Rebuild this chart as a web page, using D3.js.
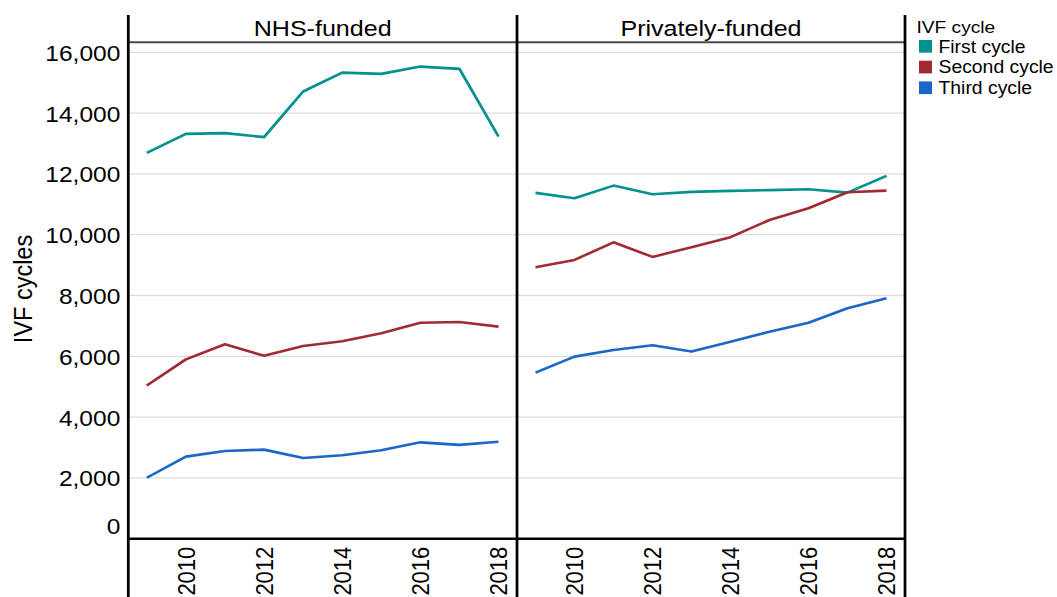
<!DOCTYPE html>
<html>
<head>
<meta charset="utf-8">
<script src="https://cdn.jsdelivr.net/npm/d3@7"></script>
<style>
  body { margin: 0; background: #fff; }
  svg { display: block; }
  text { font-family: "Liberation Sans", Arial, sans-serif; fill: #000; }
</style>
</head>
<body>
<svg id="chart"></svg>
<script>

  //============================================================
  // Data
  //------------------------------------------------------------

  var years = [2009, 2010, 2011, 2012, 2013, 2014, 2015, 2016, 2017, 2018];
  var panels = ['NHS-funded', 'Privately-funded'];
  var seriesNames = ['First cycle', 'Second cycle', 'Third cycle'];
  var seriesColors = ['#00928c', '#a12a34', '#1b67c7'];

  var nhsFirst   = [12690, 13315, 13340, 13210, 14710, 15330, 15290, 15530, 15455, 13230];
  var nhsSecond  = [5040, 5900, 6395, 6020, 6340, 6495, 6755, 7105, 7130, 6975];
  var nhsThird   = [2005, 2700, 2885, 2930, 2655, 2745, 2910, 3170, 3085, 3190];

  var privFirst  = [11375, 11200, 11615, 11330, 11410, 11440, 11465, 11495, 11385, 11935];
  var privSecond = [8930, 9170, 9750, 9270, 9590, 9920, 10485, 10870, 11395, 11450];
  var privThird  = [5465, 5990, 6210, 6365, 6155, 6475, 6810, 7105, 7580, 7910];

  var panelData = [
    [nhsFirst, nhsSecond, nhsThird],
    [privFirst, privSecond, privThird]
  ];

  var yTicks = [0, 2000, 4000, 6000, 8000, 10000, 12000, 14000, 16000];
  var xTicks = [2010, 2012, 2014, 2016, 2018];

  //============================================================
  // Layout (screen px, the picture is drawn slightly stretched sideways)
  //------------------------------------------------------------

  var width = 1057
    , height = 597
    , sx = 1.1
    , innerW = width / sx
    , stripTop = 15
    , plotTop = 42.3
    , axisY = 538.7
    , edges = [128.3, 517, 905]
    , pad = 18.5
    ;

  function px(v) { return v / sx; }

  var svg = d3.select('#chart')
      .attr('width', width)
      .attr('height', height)
      .attr('viewBox', '0 0 ' + innerW + ' ' + height)
      .attr('preserveAspectRatio', 'none');

  var y = d3.scaleLinear()
      .domain([0, 16000])
      .range([axisY, 52.3]);

  var line = d3.line()
      .x(function(d) { return d.x; })
      .y(function(d) { return y(d.v); });

  //------------------------------------------------------------
  // Panels

  panels.forEach(function(name, p) {
    var x0 = edges[p], x1 = edges[p + 1];
    var x = d3.scaleLinear()
        .domain([2009, 2018])
        .range([px(x0 + pad), px(x1 - pad)]);

    var g = svg.append('g').attr('class', 'panel');

    g.selectAll('line.grid')
        .data(yTicks.filter(function(t) { return t > 0; }))
      .enter().append('line')
        .attr('class', 'grid')
        .attr('x1', px(x0)).attr('x2', px(x1))
        .attr('y1', function(d) { return y(d); })
        .attr('y2', function(d) { return y(d); })
        .style('stroke', '#dcdcdc')
        .style('stroke-width', 1.3);

    g.selectAll('path.series')
        .data(panelData[p])
      .enter().append('path')
        .attr('class', 'series')
        .attr('d', function(vals) {
          return line(vals.map(function(v, i) { return {x: x(years[i]), v: v}; }));
        })
        .style('fill', 'none')
        .style('stroke', function(d, i) { return seriesColors[i]; })
        .style('stroke-width', 2.6)
        .style('stroke-linejoin', 'round');

    g.append('text')
        .attr('x', px((x0 + x1) / 2))
        .attr('y', 36)
        .attr('text-anchor', 'middle')
        .style('font-size', '22.8px')
        .text(name);

    g.selectAll('text.xtick')
        .data(xTicks)
      .enter().append('text')
        .attr('class', 'xtick')
        .attr('transform', function(d) { return 'translate(' + x(d) + ',' + (axisY + 8) + ') rotate(-90)'; })
        .attr('text-anchor', 'end')
        .attr('dy', '0.36em')
        .style('font-size', '22px')
        .text(function(d) { return d; });
  });

  //------------------------------------------------------------
  // Frame lines

  svg.append('line')
      .attr('x1', px(edges[0])).attr('x2', px(edges[2]))
      .attr('y1', plotTop).attr('y2', plotTop)
      .style('stroke', '#4a4a4a')
      .style('stroke-width', 2);

  svg.append('line')
      .attr('x1', px(edges[0])).attr('x2', px(edges[2]))
      .attr('y1', axisY).attr('y2', axisY)
      .style('stroke', '#000')
      .style('stroke-width', 2.6);

  svg.selectAll('line.edge')
      .data(edges)
    .enter().append('line')
      .attr('class', 'edge')
      .attr('x1', function(d) { return px(d); })
      .attr('x2', function(d) { return px(d); })
      .attr('y1', stripTop).attr('y2', height)
      .style('stroke', '#000')
      .style('stroke-width', 2.5);

  //------------------------------------------------------------
  // Y axis

  var yAxis = svg.append('g')
      .attr('transform', 'translate(' + px(edges[0] - 8) + ',0)')
      .call(d3.axisLeft(y).tickValues(yTicks).tickSize(0).tickPadding(0).tickFormat(d3.format(',')));

  yAxis.select('.domain').remove();
  yAxis.selectAll('text')
      .style('font-size', '22.3px')
      .style('font-family', '"Liberation Sans", Arial, sans-serif')
      .style('fill', '#000')
      .attr('dy', function(d) { return d === 0 ? '-0.22em' : '0.36em'; });

  svg.append('text')
      .attr('transform', 'translate(' + px(31.7) + ',289) rotate(-90)')
      .attr('text-anchor', 'middle')
      .style('font-size', '23.5px')
      .text('IVF cycles');

  //------------------------------------------------------------
  // Legend

  var legend = svg.append('g');

  legend.append('text')
      .attr('x', px(916.5))
      .attr('y', 32.7)
      .style('font-size', '17.4px')
      .text('IVF cycle');

  var items = legend.selectAll('g.item')
      .data(seriesNames)
    .enter().append('g')
      .attr('class', 'item')
      .attr('transform', function(d, i) { return 'translate(0,' + (52.7 + i * 20.7) + ')'; });

  items.append('rect')
      .attr('x', px(919))
      .attr('y', -12.7)
      .attr('width', px(13))
      .attr('height', 12.7)
      .style('fill', function(d, i) { return seriesColors[i]; });

  items.append('text')
      .attr('x', px(938.5))
      .attr('y', 0)
      .style('font-size', '17.6px')
      .text(function(d) { return d; });

</script>
</body>
</html>
